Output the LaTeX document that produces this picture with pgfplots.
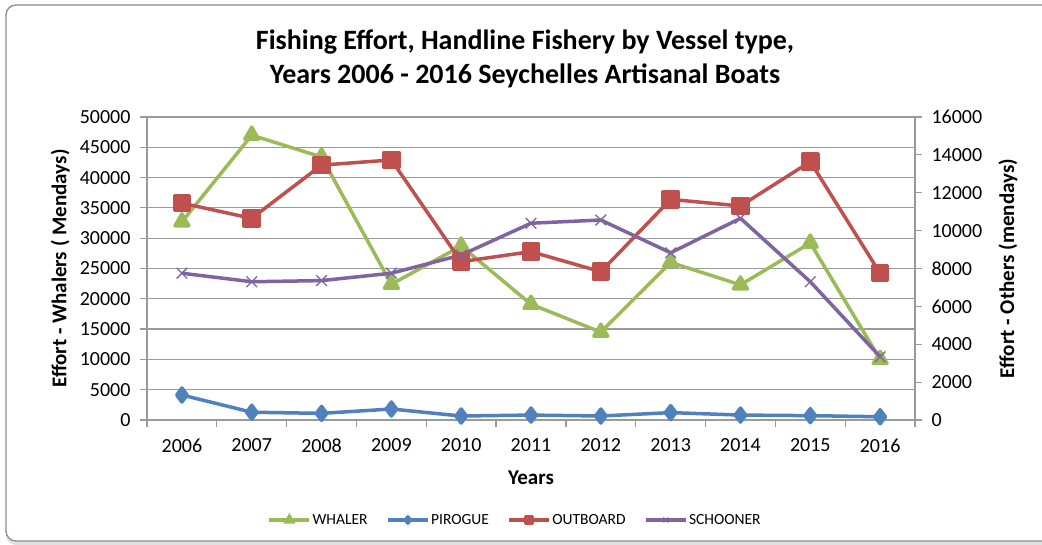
\documentclass[border=0pt]{standalone}
\usepackage{pgfplots}
\pgfplotsset{compat=1.18}
\usepackage{fontspec}
\setmainfont{Carlito}
\definecolor{cw}{HTML}{9BBB59}
\definecolor{cp}{HTML}{4F81BD}
\definecolor{co}{HTML}{C0504D}
\definecolor{cs}{HTML}{8064A2}
\definecolor{axg}{HTML}{9A9A9A}
\pgfplotsset{
  common/.style={
    at={(147bp,125bp)}, anchor=south west, scale only axis,
    width=768bp, height=303bp,
    xmin=-0.5, xmax=10.5,
    axis line style={axg, line width=1.2bp, -},
    tick style={axg, line width=1.2bp},
    tick align=outside, major tick length=7bp, minor tick length=7bp,
    ticklabel style={font=\fontsize{20bp}{22bp}\selectfont},
    /pgf/number format/1000 sep={},
    /pgf/number format/assume math mode=true,
    label style={font=\bfseries\fontsize{21bp}{23bp}\selectfont},
    legend image code/.code={\draw[mark repeat=2,mark phase=2,##1,every mark/.append style={scale=0.45}] plot coordinates {(0bp,0bp) (20bp,0bp) (40bp,0bp)};},
  }
}
\begin{document}
\begin{tikzpicture}[x=1bp,y=1bp]
\useasboundingbox (0,0) rectangle (1042,545);
\fill[white] (0,0) rectangle (1042,545);
\fill[black!12, rounded corners=10bp] (6,0) rectangle (1060,540);
\fill[white, rounded corners=10bp] (6,4) rectangle (1060,540);
\draw[black!45, line width=1.3bp, rounded corners=10bp] (6,4) rectangle (1060,540);
\node[font=\bfseries\fontsize{28bp}{34bp}\selectfont, align=center] at (525,486) {Fishing Effort, Handline Fishery by Vessel type,\\Years 2006 - 2016 Seychelles Artisanal Boats};
\begin{axis}[common,
  ymin=0, ymax=50000, ytick={0,5000,...,50000},
  scaled y ticks=false,
  axis y line*=left, axis x line*=bottom,
  xtick={0,...,10},
  xticklabels={2006,2007,2008,2009,2010,2011,2012,2013,2014,2015,2016},
  major x tick style={draw=none},
  minor xtick={-0.5,0.5,...,10.5},
  xticklabel style={yshift=-8bp},
  yticklabel style={xshift=-6bp},
  ymajorgrids, grid style={axg, line width=1.2bp},
  xlabel={Years},
  xlabel style={at={(rel axis cs:0.5,-0.191)}, anchor=center},
  ylabel={Effort - Whalers ( Mendays)},
  ylabel style={at={(rel axis cs:-0.113,0.5)}, anchor=center},
]
\addplot[color=cw, line width=3.5bp, line join=round, mark=triangle*, mark size=8bp, mark options={solid}] coordinates {
(0,32700) (1,47000) (2,43400) (3,22400) (4,28700) (5,19100) (6,14500) (7,26000) (8,22300) (9,29200) (10,10000)};
\end{axis}
\begin{axis}[common,
  ymin=0, ymax=16000, ytick={0,2000,...,16000},
  scaled y ticks=false,
  axis y line*=right, axis x line=none,
  yticklabel style={xshift=6bp},
  ylabel={Effort - Others (mendays)},
  ylabel style={at={(rel axis cs:1.121,0.5)}, anchor=center},
  legend style={at={(rel axis cs:0.479,-0.33)}, anchor=center, legend columns=4, draw=none, fill=none,
    font=\fontsize{15.5bp}{17bp}\selectfont,
    nodes={inner xsep=1.5bp},
    /tikz/every even column/.append style={column sep=17bp}},
  legend cell align=left,
]
\addlegendimage{color=cw, line width=3.5bp, mark=triangle*, mark size=8bp, mark options={solid}}
\addlegendentry{WHALER}
\addplot[color=cp, line width=3.5bp, line join=round, mark=diamond*, mark size=7bp, mark options={solid}] coordinates {
(0,1320) (1,410) (2,350) (3,580) (4,210) (5,260) (6,210) (7,390) (8,260) (9,230) (10,170)};
\addlegendentry{PIROGUE}
\addplot[color=co, line width=3.5bp, line join=round, mark=square*, mark size=7.5bp, mark options={solid}] coordinates {
(0,11450) (1,10650) (2,13460) (3,13730) (4,8360) (5,8890) (6,7830) (7,11650) (8,11300) (9,13640) (10,7750)};
\addlegendentry{OUTBOARD}
\addplot[color=cs, line width=3.5bp, line join=round, mark=x, mark size=7.5bp, mark options={solid, line width=1.3bp}] coordinates {
(0,7750) (1,7300) (2,7360) (3,7750) (4,8710) (5,10390) (6,10560) (7,8830) (8,10650) (9,7300) (10,3340)};
\addlegendentry{SCHOONER}
\end{axis}
\end{tikzpicture}
\end{document}
